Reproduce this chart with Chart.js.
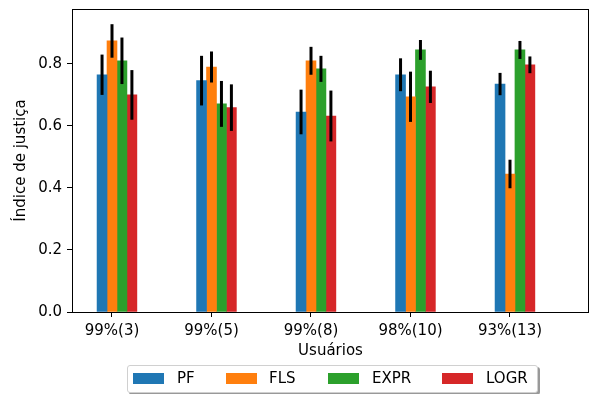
<!DOCTYPE html>
<html>
<head>
<meta charset="utf-8">
<script src="https://cdn.jsdelivr.net/npm/chart.js@4"></script>
<style>
  body { margin: 0; background: #fff; }
  #wrap { position: relative; width: 590px; height: 394px; font-family: "DejaVu Sans", sans-serif; }
  #legend {
    position: absolute; left: 127px; top: 365px; width: 409px; height: 26px;
    border: 1px solid #d0d0d0; border-radius: 3px; background: #fff;
    box-shadow: 2px 2px 0 #999;
  }
  .sw { position: absolute; top: 7px; width: 31px; height: 11px; }
  .lt { position: absolute; top: 3px; font-size: 15px; color: #000; line-height: 18px; }
</style>
</head>
<body>
<div id="wrap">
  <canvas id="c" width="590" height="394"></canvas>
  <div id="legend"></div>
</div>
<script>
// categories and series
const categories = ['99%(3)', '99%(5)', '99%(8)', '98%(10)', '93%(13)'];
const seriesNames = ['PF', 'FLS', 'EXPR', 'LOGR'];
const colors = ['#1f77b4', '#ff7f0e', '#2ca02c', '#d62728'];

const pfValues   = [0.765, 0.746, 0.645, 0.765, 0.735];
const flsValues  = [0.874, 0.790, 0.810, 0.694, 0.445];
const exprValues = [0.810, 0.671, 0.784, 0.845, 0.845];
const logrValues = [0.700, 0.659, 0.632, 0.726, 0.797];

const pfErr   = [0.065, 0.080, 0.072, 0.053, 0.036];
const flsErr  = [0.054, 0.050, 0.045, 0.081, 0.046];
const exprErr = [0.075, 0.074, 0.042, 0.032, 0.029];
const logrErr = [0.080, 0.075, 0.082, 0.052, 0.027];

const yTicks = [0.0, 0.2, 0.4, 0.6, 0.8];

const allValues = [pfValues, flsValues, exprValues, logrValues];
const allErrs = [pfErr, flsErr, exprErr, logrErr];
const offsets = [-0.1, 0, 0.1, 0.2];

const datasets = seriesNames.map((name, s) => ({
    label: name,
    data: allValues[s].map((v, i) => ({ x: i + offsets[s], y: v })),
    errors: allErrs[s],
    backgroundColor: colors[s],
    borderWidth: 0,
    barThickness: 9.95,
    grouped: false
}));

// error bars, frame and axis titles
const extras = {
    id: 'extras',
    afterDatasetsDraw(chart) {
        const ctx = chart.ctx;
        const y = chart.scales.y;
        ctx.save();
        ctx.strokeStyle = '#000';
        ctx.lineWidth = 3;
        chart.data.datasets.forEach((ds, di) => {
            const meta = chart.getDatasetMeta(di);
            meta.data.forEach((bar, i) => {
                const v = ds.data[i].y, e = ds.errors[i];
                ctx.beginPath();
                ctx.moveTo(bar.x, y.getPixelForValue(v + e));
                ctx.lineTo(bar.x, y.getPixelForValue(v - e));
                ctx.stroke();
            });
        });
        ctx.restore();
    },
    afterDraw(chart) {
        const ctx = chart.ctx;
        const a = chart.chartArea;
        ctx.save();
        ctx.strokeStyle = '#000';
        ctx.lineWidth = 1;
        ctx.strokeRect(Math.round(a.left) + 0.5, Math.round(a.top) + 0.5,
            Math.round(a.right - a.left) - 1, Math.round(a.bottom - a.top));
        ctx.fillStyle = '#000';
        ctx.font = '15px "DejaVu Sans"';
        ctx.textAlign = 'center';
        ctx.textBaseline = 'middle';
        ctx.fillText('Usuários', (a.left + a.right) / 2, 351);
        ctx.translate(21, (a.top + a.bottom) / 2);
        ctx.rotate(-Math.PI / 2);
        ctx.fillText('Índice de justiça', 0, 0);
        ctx.restore();
    }
};

new Chart(document.getElementById('c'), {
    type: 'bar',
    data: { datasets: datasets },
    options: {
        responsive: false,
        animation: false,
        layout: { padding: { left: 0, top: 9, right: 1, bottom: 0 } },
        plugins: { legend: { display: false }, tooltip: { enabled: false } },
        scales: {
            x: {
                type: 'linear',
                min: -0.402,
                max: 4.794,
                offset: false,
                grid: { offset: false, drawOnChartArea: false, drawTicks: true, tickLength: 5, color: '#000' },
                border: { display: false },
                afterBuildTicks(scale) { scale.ticks = categories.map((c, i) => ({ value: i })); },
                afterFit(scale) { scale.height = 82; scale.paddingLeft = 0; scale.paddingRight = 0; },
                ticks: {
                    color: '#000',
                    font: { family: 'DejaVu Sans', size: 15 },
                    padding: 5,
                    maxRotation: 0,
                    autoSkip: false,
                    callback: (v) => categories[v]
                }
            },
            y: {
                min: 0,
                max: 0.977,
                grid: { drawOnChartArea: false, drawTicks: true, tickLength: 5, color: '#000' },
                border: { display: false },
                afterBuildTicks(scale) { scale.ticks = yTicks.map(v => ({ value: v })); },
                afterFit(scale) { scale.width = 72; scale.paddingTop = 0; scale.paddingBottom = 0; },
                ticks: {
                    color: '#000',
                    font: { family: 'DejaVu Sans', size: 15 },
                    padding: 5,
                    callback: (v) => v.toFixed(1)
                }
            }
        }
    },
    plugins: [extras]
});

// legend
const legend = document.getElementById('legend');
const swLeft = [5, 98, 200, 314];
const txLeft = [49, 141, 244, 358];
seriesNames.forEach((name, s) => {
    const sw = document.createElement('div');
    sw.className = 'sw';
    sw.style.left = swLeft[s] + 'px';
    sw.style.background = colors[s];
    legend.appendChild(sw);
    const t = document.createElement('div');
    t.className = 'lt';
    t.style.left = txLeft[s] + 'px';
    t.textContent = name;
    legend.appendChild(t);
});
</script>
</body>
</html>
